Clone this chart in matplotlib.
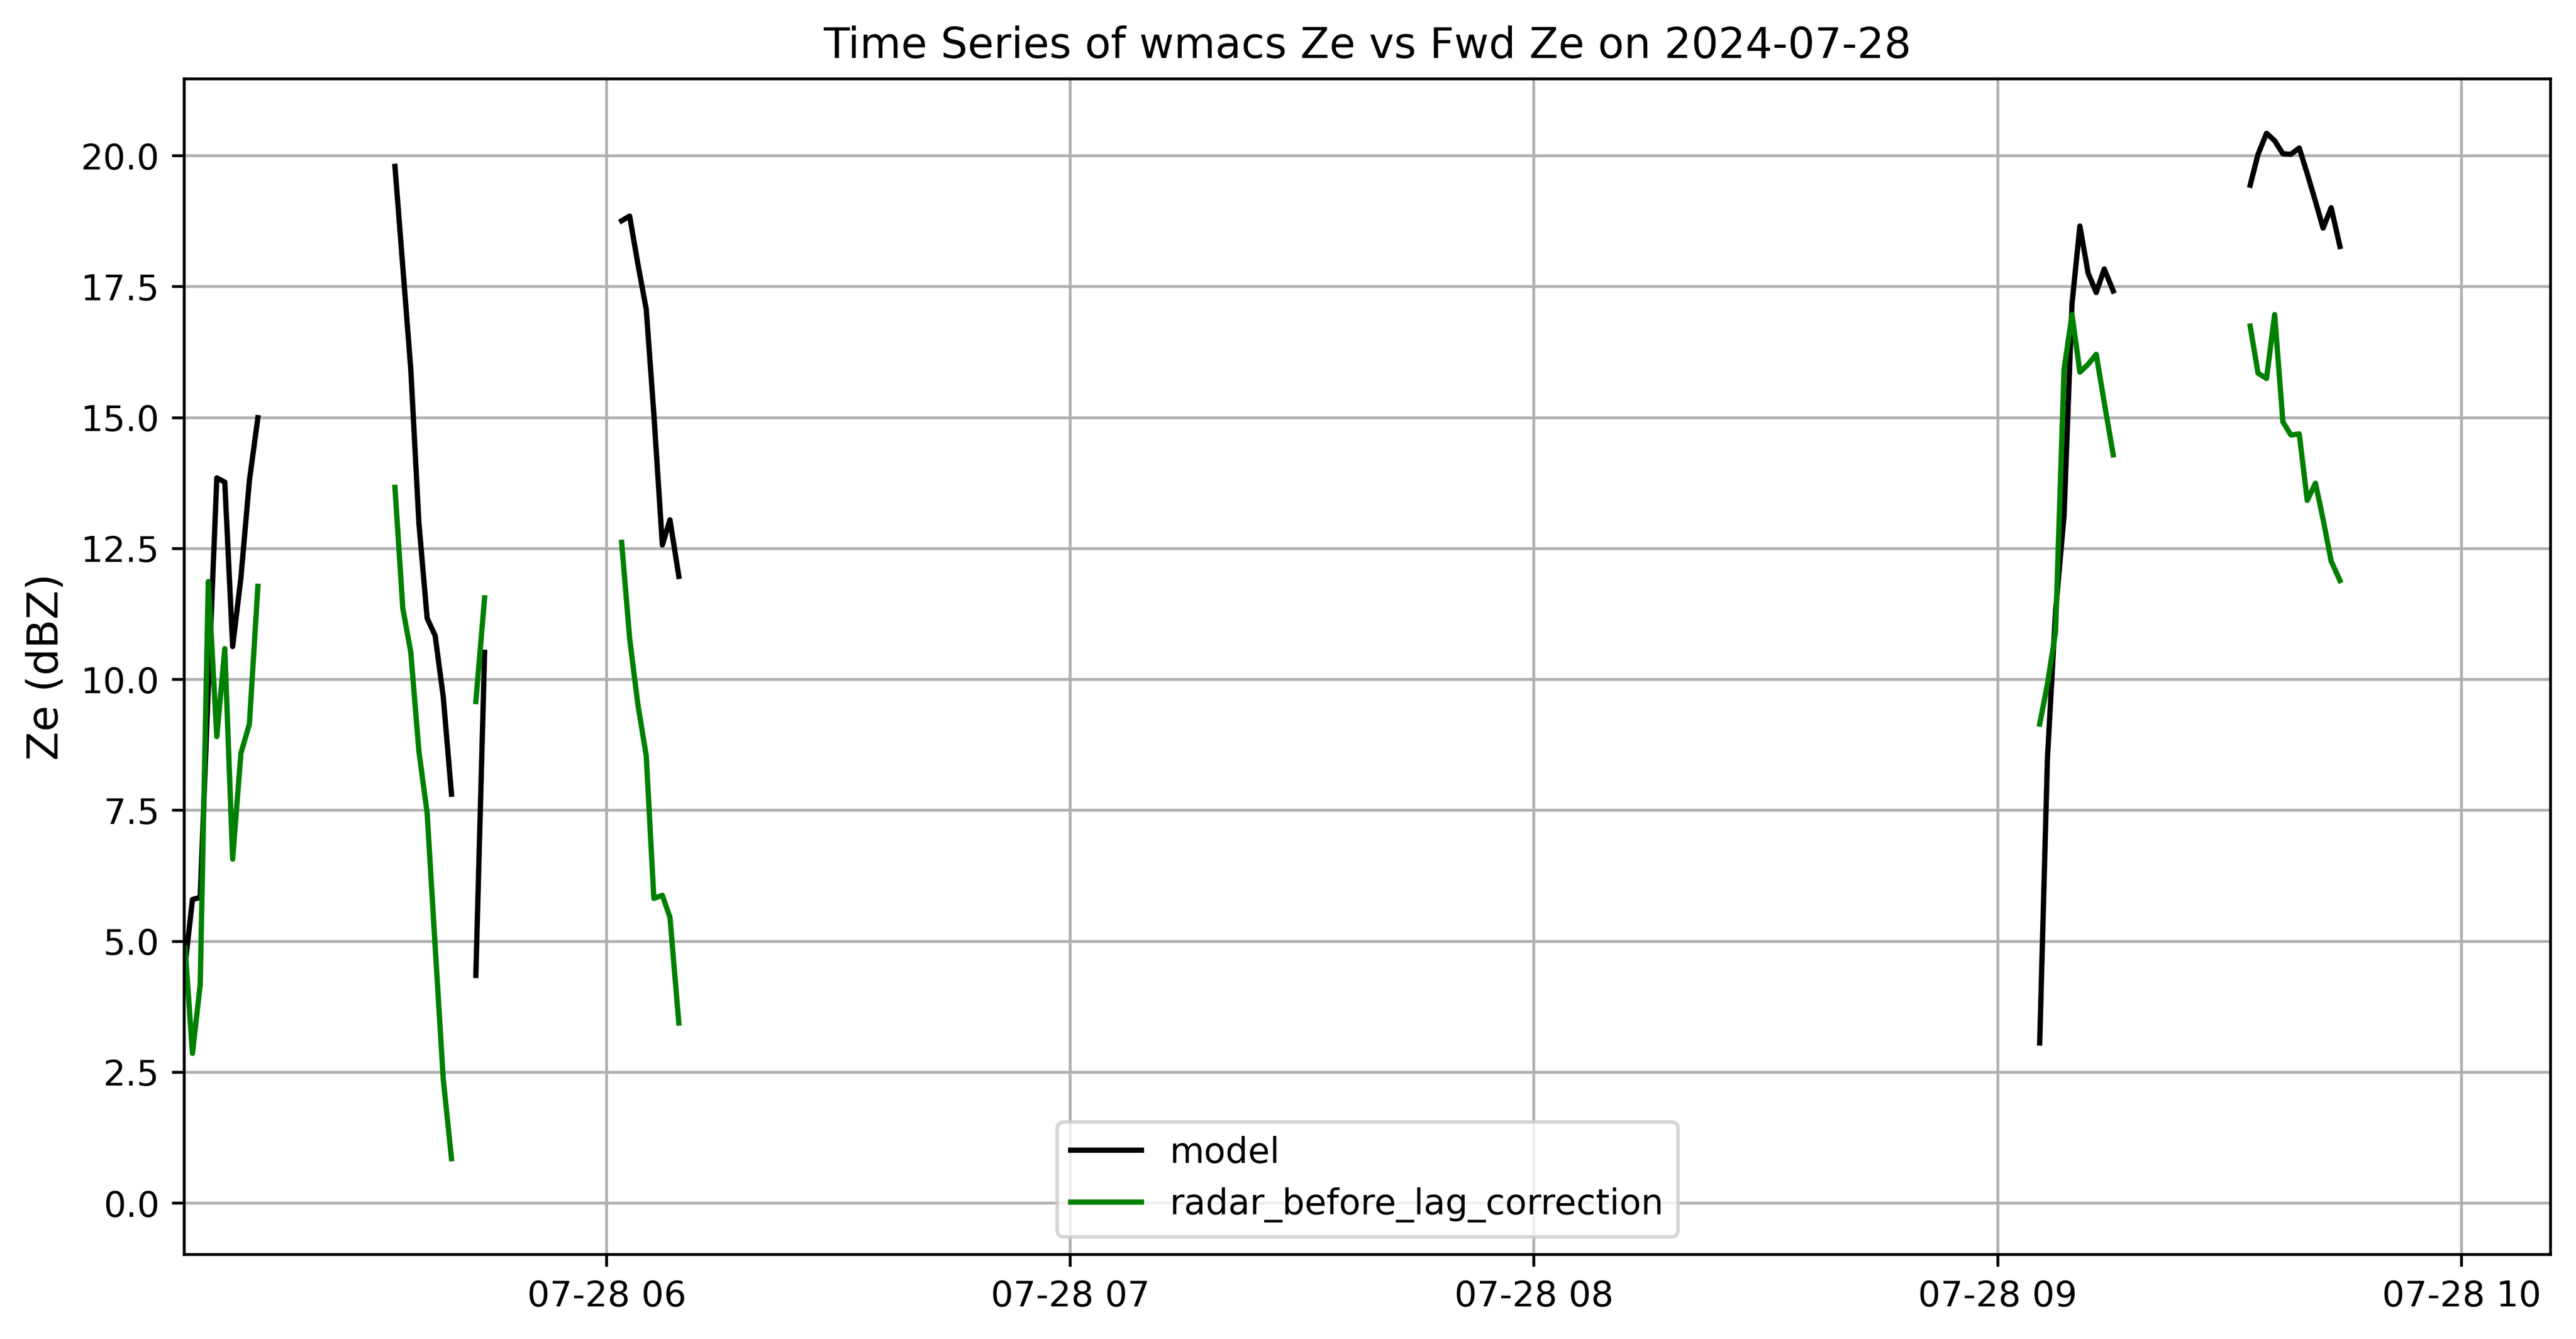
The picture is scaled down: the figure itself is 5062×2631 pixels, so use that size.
#coding:utf-8
import numpy as np
import pandas as pd
import matplotlib
matplotlib.use('Agg')
import matplotlib.pyplot as plt

day = "2024-07-28"

# sample times (NaN rows mark gaps between flight legs)
times = [
    "05:05:28", "05:06:25", "05:07:25", "05:08:28", "05:09:34",
    "05:10:36", "05:11:37", "05:12:41", "05:13:47", "05:14:53",
    "05:20:00",
    "05:32:37", "05:33:38", "05:34:40", "05:35:43", "05:36:47",
    "05:37:49", "05:38:52", "05:39:56",
    "05:41:30",
    "05:43:05", "05:44:13",
    "05:50:00",
    "06:01:57", "06:02:59", "06:04:02", "06:05:08", "06:06:07",
    "06:07:13", "06:08:12", "06:09:21",
    "07:30:00",
    "09:05:26", "09:06:26", "09:07:29", "09:08:35", "09:09:37",
    "09:10:38", "09:11:42", "09:12:45", "09:13:47", "09:14:57",
    "09:25:00",
    "09:32:40", "09:33:41", "09:34:47", "09:35:50", "09:36:54",
    "09:37:56", "09:39:01", "09:40:03", "09:41:07", "09:42:06",
    "09:43:09", "09:44:17",
]

model_ze = [
    4.55, 5.80, 5.84, 9.85, 13.85, 13.77, 10.63, 11.94, 13.80, 15.00,
    np.nan,
    19.80, 17.88, 15.92, 12.99, 11.17, 10.84, 9.67, 7.81,
    np.nan,
    4.35, 10.52,
    np.nan,
    18.76, 18.85, 17.95, 17.07, 15.07, 12.57, 13.05, 11.97,
    np.nan,
    3.06, 8.49, 11.30, 13.13, 17.18, 18.66, 17.76, 17.39, 17.84, 17.42,
    np.nan,
    19.44, 20.03, 20.43, 20.29, 20.04, 20.03, 20.15, 19.66, 19.13, 18.62,
    19.01, 18.27,
]

radar_ze = [
    4.87, 2.86, 4.17, 11.87, 8.91, 10.59, 6.57, 8.59, 9.15, 11.78,
    np.nan,
    13.67, 11.36, 10.52, 8.63, 7.45, 4.91, 2.37, 0.85,
    np.nan,
    9.58, 11.56,
    np.nan,
    12.62, 10.79, 9.54, 8.54, 5.82, 5.88, 5.46, 3.44,
    np.nan,
    9.15, 9.91, 10.91, 15.92, 16.97, 15.87, 16.02, 16.21, 15.29, 14.29,
    np.nan,
    16.75, 15.85, 15.75, 16.97, 14.92, 14.67, 14.69, 13.42, 13.75, 13.06,
    12.26, 11.89,
]

t = pd.to_datetime([day + " " + s for s in times])

fig = plt.figure(figsize=(5062 / 500.0, 2631 / 500.0), dpi=500)
ax = fig.add_axes([362 / 5062.0, 166 / 2631.0, 4650 / 5062.0, 2310 / 2631.0])

ax.plot(t, model_ze, color='black', label='model')
ax.plot(t, radar_ze, color='green', label='radar_before_lag_correction')

ax.set_xlim(pd.Timestamp(day + " 05:05:21"), pd.Timestamp(day + " 10:11:32"))
ax.set_ylim(-0.98, 21.47)
ax.set_ylabel("Ze (dBZ)", fontsize=12)
ax.set_title("Time Series of wmacs Ze vs Fwd Ze on " + day)
ax.grid(True)
ax.legend(loc='lower center')

fig.savefig("out.png", dpi=500)
